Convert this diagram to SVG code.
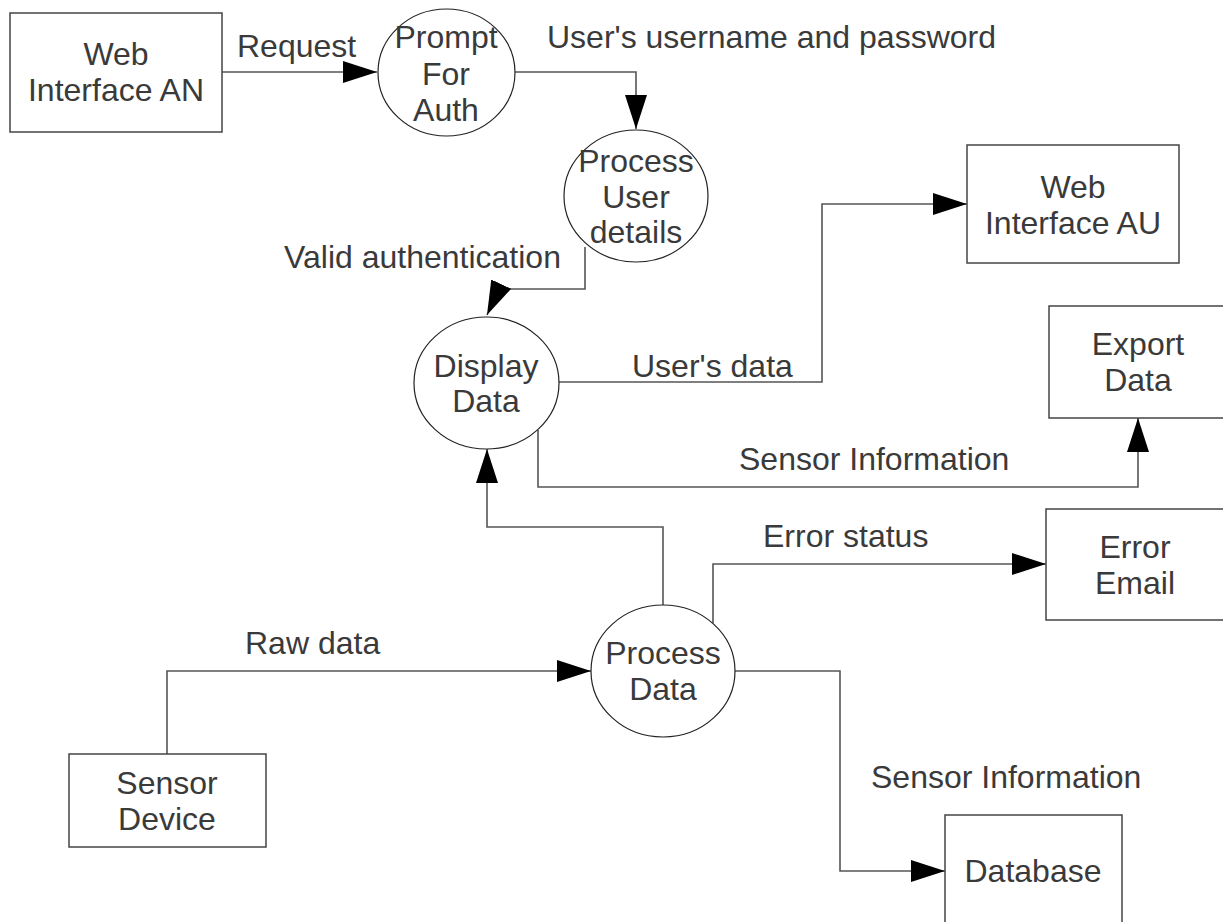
<svg xmlns="http://www.w3.org/2000/svg" width="1223" height="922" viewBox="0 0 1223 922">
<style>
.box{fill:#fff;stroke:#444;stroke-width:1.5}
.proc{fill:#fff;stroke:#222;stroke-width:1.2}
.t{font-family:"Liberation Sans",Arial,sans-serif;font-size:32px;fill:#3a3a3a}
.c{text-anchor:middle}
.ln{fill:none;stroke:#555;stroke-width:1.6}
</style>
<defs>
<marker id="arr" markerUnits="userSpaceOnUse" markerWidth="35" markerHeight="23" refX="34" refY="11" orient="auto">
<path d="M0,0 L34,11 L0,22 z" fill="#000"/>
</marker>
</defs>
<rect width="1223" height="922" fill="#fff"/>
<g id="connectors">
<path class="ln" d="M222,72 H377" marker-end="url(#arr)"/>
<path class="ln" d="M515,72 H636 V129" marker-end="url(#arr)"/>
<path class="ln" d="M585,247 V289 H499 L487,315" marker-end="url(#arr)"/>
<path class="ln" d="M559,382 H822 V204 H967" marker-end="url(#arr)"/>
<path class="ln" d="M538,430 V487 H1138 V418" marker-end="url(#arr)"/>
<path class="ln" d="M663,605 V527 H487 V449" marker-end="url(#arr)"/>
<path class="ln" d="M713,623 V564 H1046" marker-end="url(#arr)"/>
<path class="ln" d="M735,671 H840 V871 H945" marker-end="url(#arr)"/>
<path class="ln" d="M167,754 V671 H591" marker-end="url(#arr)"/>
<text class="t" x="237" y="57">Request</text>
<text class="t" x="547" y="48">User's username and password</text>
<text class="t" x="284" y="268">Valid authentication</text>
<text class="t" x="632" y="377">User's data</text>
<text class="t" x="739" y="470">Sensor Information</text>
<text class="t" x="763" y="547">Error status</text>
<text class="t" x="245" y="654">Raw data</text>
<text class="t" x="871" y="788">Sensor Information</text>
</g>
<g id="web-interface-an">
<rect class="box" x="10" y="13" width="212" height="119"/>
<text class="t c" x="116" y="65">Web</text>
<text class="t c" x="116" y="101">Interface AN</text>
</g>
<g id="prompt-for-auth">
<ellipse class="proc" cx="446.5" cy="72.5" rx="68.5" ry="63.5"/>
<text class="t c" x="446" y="48">Prompt</text>
<text class="t c" x="446" y="85">For</text>
<text class="t c" x="446" y="121">Auth</text>
</g>
<g id="process-user-details">
<ellipse class="proc" cx="636" cy="196" rx="72" ry="66"/>
<text class="t c" x="636" y="172">Process</text>
<text class="t c" x="636" y="208">User</text>
<text class="t c" x="636" y="243">details</text>
</g>
<g id="display-data">
<ellipse class="proc" cx="486.5" cy="383" rx="72.5" ry="66"/>
<text class="t c" x="486" y="377">Display</text>
<text class="t c" x="486" y="412">Data</text>
</g>
<g id="web-interface-au">
<rect class="box" x="967" y="145" width="212" height="118"/>
<text class="t c" x="1073" y="198">Web</text>
<text class="t c" x="1073" y="234">Interface AU</text>
</g>
<g id="export-data">
<rect class="box" x="1049" y="306" width="180" height="112"/>
<text class="t c" x="1138" y="355">Export</text>
<text class="t c" x="1138" y="391">Data</text>
</g>
<g id="error-email">
<rect class="box" x="1046" y="509" width="180" height="111"/>
<text class="t c" x="1135" y="558">Error</text>
<text class="t c" x="1135" y="594">Email</text>
</g>
<g id="process-data">
<ellipse class="proc" cx="663" cy="671" rx="72" ry="66"/>
<text class="t c" x="663" y="664">Process</text>
<text class="t c" x="663" y="700">Data</text>
</g>
<g id="sensor-device">
<rect class="box" x="69" y="754" width="197" height="93"/>
<text class="t c" x="167" y="794">Sensor</text>
<text class="t c" x="167" y="830">Device</text>
</g>
<g id="database">
<rect class="box" x="945" y="815" width="177" height="120"/>
<text class="t c" x="1033" y="882">Database</text>
</g>
</svg>
